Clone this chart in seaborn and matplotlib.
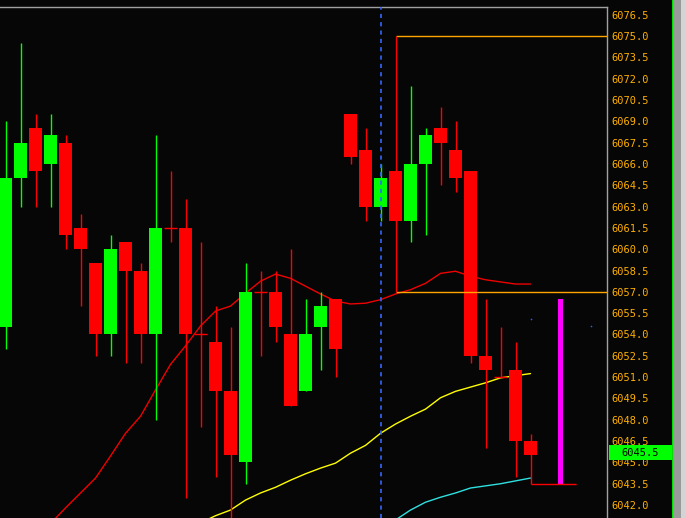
import matplotlib
matplotlib.use("Agg")
import matplotlib.pyplot as plt
import matplotlib.transforms as mtransforms
from matplotlib.patches import Rectangle
import numpy as np
import pandas as pd
import seaborn as sns

# ---------------- data ----------------
opens  = [6054.5, 6065.0, 6068.5, 6066.0, 6067.5, 6061.5, 6059.0, 6054.0, 6060.5, 6058.5,
          6054.0, 6061.5, 6061.5, 6054.0, 6053.5, 6050.0, 6045.0, 6057.0, 6057.0, 6054.0,
          6050.0, 6054.5, 6056.5, 6069.5, 6067.0, 6063.0, 6065.5, 6062.0, 6066.0, 6068.5,
          6067.0, 6065.5, 6052.5, 6051.0, 6051.5, 6046.5]
highs  = [6069.0, 6074.5, 6069.5, 6069.5, 6068.0, 6062.5, 6059.0, 6061.0, 6060.5, 6059.0,
          6068.0, 6065.5, 6063.5, 6060.5, 6056.0, 6054.5, 6059.0, 6058.5, 6058.5, 6060.0,
          6056.5, 6057.0, 6056.5, 6069.5, 6068.5, 6066.0, 6065.5, 6071.5, 6068.5, 6070.0,
          6069.0, 6065.5, 6056.5, 6054.5, 6053.5, 6047.0]
lows   = [6053.0, 6063.0, 6063.0, 6063.0, 6060.0, 6056.0, 6052.5, 6052.5, 6052.0, 6052.0,
          6048.0, 6060.5, 6042.5, 6047.5, 6044.0, 6040.5, 6043.5, 6052.5, 6053.5, 6049.0,
          6050.0, 6051.5, 6051.0, 6066.0, 6062.0, 6062.0, 6062.0, 6060.5, 6061.0, 6064.5,
          6064.0, 6052.0, 6046.0, 6051.0, 6044.0, 6043.5]
closes = [6065.0, 6067.5, 6065.5, 6068.0, 6061.0, 6060.0, 6054.0, 6060.0, 6058.5, 6054.0,
          6061.5, 6061.5, 6054.0, 6054.0, 6050.0, 6045.5, 6057.0, 6057.0, 6054.5, 6049.0,
          6054.0, 6056.0, 6053.0, 6066.5, 6063.0, 6065.0, 6062.0, 6066.0, 6068.0, 6067.5,
          6065.0, 6052.5, 6051.5, 6051.0, 6046.5, 6045.5]

ma_red_start = 3
ma_red = [6040.7, 6041.8, 6042.85, 6043.9, 6045.45, 6047.05, 6048.25, 6050.1, 6051.9, 6053.2,
          6054.6, 6055.65, 6056.0, 6056.9, 6057.75, 6058.25, 6057.95, 6057.4, 6056.85, 6056.35,
          6056.15, 6056.2, 6056.45, 6056.85, 6057.15, 6057.6, 6058.3, 6058.45, 6058.1, 6057.85,
          6057.7, 6057.55, 6057.55]
ma_yellow_start = 13
ma_yellow = [6040.75, 6041.25, 6041.65, 6042.35, 6042.85, 6043.25, 6043.75, 6044.2, 6044.6,
             6044.95, 6045.65, 6046.2, 6047.05, 6047.7, 6048.25, 6048.75, 6049.55, 6050.0,
             6050.3, 6050.6, 6050.95, 6051.1, 6051.25]
ma_cyan_start = 26
ma_cyan = [6040.95, 6041.65, 6042.2, 6042.55, 6042.85, 6043.2, 6043.35, 6043.5, 6043.7, 6043.9]

session_bar = 25                 # dashed vertical line
box_bar = 26                     # range box start
box_top, box_bottom = 6075.0, 6057.0
proj_bar = 37                    # magenta projection bar
proj_low, proj_high = 6043.5, 6056.5
low_line_from, low_line_to, low_line_price = 35, 38, 6043.5
blue_dots_x = [35, 39]
blue_dots_y = [6055.1, 6054.6]
last_price = 6045.5

tick_values = [6042.0 + 1.5 * i for i in range(24)]
tick_labels = [f"{v:.1f}" for v in tick_values]

# ---------------- style ----------------
BG = "#060606"
sns.set_style("dark", rc={"axes.facecolor": BG, "figure.facecolor": BG,
                          "axes.edgecolor": "#A0A0A0", "axes.grid": False})
plt.rcParams["font.family"] = ["DejaVu Sans Mono", "DejaVu Sans"]

W, H = 685, 518
fig = plt.figure(figsize=(W / 100, H / 100), dpi=100)
ax = fig.add_axes([0, 0, 607 / W, 511 / H])
ax.set_facecolor(BG)

# ---------------- moving averages (seaborn) ----------------
df_r = pd.DataFrame({"i": np.arange(ma_red_start, ma_red_start + len(ma_red)), "v": ma_red})
df_y = pd.DataFrame({"i": np.arange(ma_yellow_start, ma_yellow_start + len(ma_yellow)), "v": ma_yellow})
df_c = pd.DataFrame({"i": np.arange(ma_cyan_start, ma_cyan_start + len(ma_cyan)), "v": ma_cyan})
sns.lineplot(data=df_r, x="i", y="v", ax=ax, color="#F00000", linewidth=1.0, zorder=2)
sns.lineplot(data=df_y, x="i", y="v", ax=ax, color="#FFFF00", linewidth=1.0, zorder=2)
sns.lineplot(data=df_c, x="i", y="v", ax=ax, color="#30E0E0", linewidth=1.0, zorder=2)

# ---------------- candles ----------------
n = len(opens)
xs = np.arange(n)
o = np.array(opens); c = np.array(closes); hi = np.array(highs); lo = np.array(lows)
cols = np.where(c > o, "#00FF00", "#FF0000")
ax.vlines(xs, lo, hi, colors=cols, linewidth=1.0, zorder=3)
body_w = 0.87
ax.bar(xs, np.abs(c - o), bottom=np.minimum(o, c), width=body_w, color=cols,
       linewidth=0, zorder=4)
doji = np.isclose(o, c)
ax.hlines(o[doji], xs[doji] - body_w / 2, xs[doji] + body_w / 2, colors=cols[doji],
          linewidth=1.0, zorder=4)

# ---------------- annotations ----------------
xmin, xmax = -0.367, 40.1
ax.axvline(session_bar, color="#3366FF", linewidth=1.2, linestyle=(0, (2.5, 2.5)), zorder=5)
ax.hlines([box_top, box_bottom], box_bar, xmax, colors="#FFA500", linewidth=1.0, zorder=5)
ax.vlines(box_bar, box_bottom, box_top, colors="#FF0000", linewidth=1.0, zorder=5)
ax.bar([proj_bar], [proj_high - proj_low], bottom=proj_low, width=0.34,
       color="#FF00FF", linewidth=0, zorder=5)
ax.hlines(low_line_price, low_line_from, low_line_to, colors="#FF0000", linewidth=1.0, zorder=5)
ax.scatter(blue_dots_x, blue_dots_y, s=1.5, color="#3355FF", zorder=5, linewidths=0)

# ---------------- axes ----------------
ax.set_xlim(xmin, xmax)
ax.set_ylim(6041.09, 6077.04)
ax.set_xticks([])
ax.set_xlabel(""); ax.set_ylabel("")
ax.yaxis.tick_right()
ax.set_yticks(tick_values)
ax.set_yticklabels(tick_labels)
ax.tick_params(axis="y", length=0, pad=3.0, labelsize=7.5, labelcolor="#FFB000")
for s in ["left", "bottom"]:
    ax.spines[s].set_visible(False)
for s in ["top", "right"]:
    ax.spines[s].set_visible(True)
    ax.spines[s].set_color("#A0A0A0")
    ax.spines[s].set_linewidth(1.0)

# current price label
trans = mtransforms.blended_transform_factory(ax.transAxes, ax.transData)
ax.add_patch(Rectangle((609 / 607, last_price - 0.35), (672 - 609) / 607, 1.05,
                       transform=trans, facecolor="#00FF00", edgecolor="none",
                       clip_on=False, zorder=10))
ax.text(640 / 607, last_price + 0.175, f"{last_price:.1f}", transform=trans,
        ha="center", va="center", fontsize=7.5, color="#000000", clip_on=False, zorder=11)

# right-hand UI strip
fig.patches.append(Rectangle((672 / W, 0), 1 / W, 1, transform=fig.transFigure,
                             facecolor="#00DD00", edgecolor="none"))
fig.patches.append(Rectangle((673 / W, 0), 8 / W, 1, transform=fig.transFigure,
                             facecolor="#9A9A9A", edgecolor="none"))
fig.patches.append(Rectangle((681 / W, 0), 4 / W, 1, transform=fig.transFigure,
                             facecolor="#D4D4D4", edgecolor="none"))

fig.savefig("out.png", dpi=100, facecolor=BG)
